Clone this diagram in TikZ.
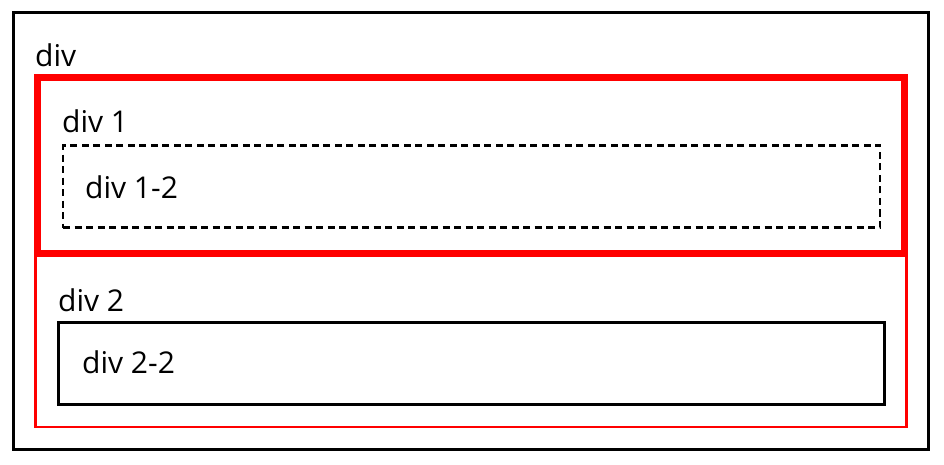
\documentclass[tikz,border=0pt]{standalone}
\usepackage{fontspec}
\setmainfont{Open Sans}
\usetikzlibrary{positioning}

\begin{document}
\begin{tikzpicture}[
    x=1pt, y=-1pt,
    box/.style={rectangle, inner sep=0pt, outer sep=0pt},
    outerbox/.style={box, draw=black, line width=3pt},
    firstbox/.style={box, draw=red, line width=7pt},
    secondbox/.style={box, draw=red, line width=2.5pt},
    dashbox/.style={box, draw=black, line width=2.5pt, dash pattern=on 7pt off 4.5pt},
    solidbox/.style={box, draw=black, line width=3pt},
    tag/.style={anchor=base west, inner sep=0pt, font=\fontsize{30}{34}\selectfont}
  ]
    \useasboundingbox (0,0) rectangle (944,465);
    % outer div
    \node[outerbox, minimum width=915.5pt, minimum height=436pt] (div) at (470.75,231) {};
    \node[tag] (divtxt) at (35,67) {div};
    % div 2 (drawn first, its top lies under div 1)
    \node[secondbox, minimum width=871pt, minimum height=174pt] (div2) at (471,340) {};
    \node[tag] (div2txt) at (58,311) {div 2};
    \node[solidbox, minimum width=825.5pt, minimum height=82pt] (div22) at (471.25,363) {};
    \node[tag] (div22txt) at (82,373) {div 2-2};
    % div 1
    \node[firstbox, minimum width=867pt, minimum height=175.5pt] (div1) at (471,165.25) {};
    \node[tag] (div1txt) at (62,133) {div 1};
    \node[dashbox, minimum width=817pt, minimum height=82pt] (div12) at (471.5,186.5) {};
    \node[tag] (div12txt) at (85,198) {div 1-2};
  \end{tikzpicture}
\end{document}
